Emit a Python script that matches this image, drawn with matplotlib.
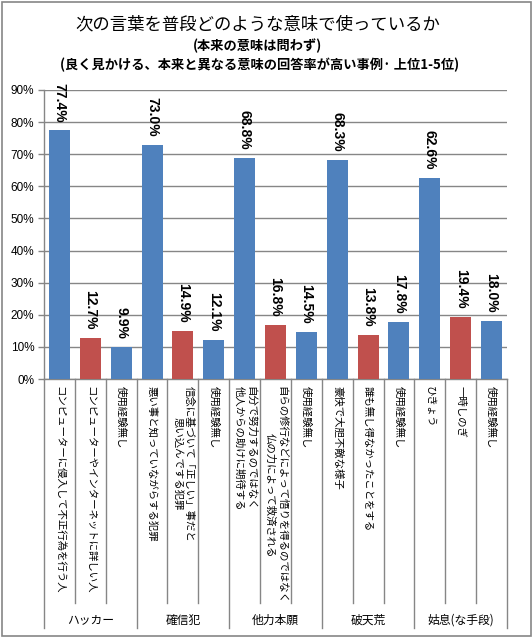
import matplotlib
matplotlib.use("Agg")
import matplotlib.pyplot as plt
from matplotlib.transforms import blended_transform_factory
from matplotlib.patches import Rectangle

# ---- data ----
groups = ["ハッカー", "確信犯", "他力本願", "破天荒", "姑息(な手段)"]
labels = [
    "コンピューターに侵入して不正行為を行う人",
    "コンピューターやインターネットに詳しい人",
    "使用経験無し",
    "悪い事と知っていながらする犯罪",
    "信念に基づいて「正しい」事だと\n思い込んでする犯罪",
    "使用経験無し",
    "自分で努力するのではなく\n他人からの助けに期待する",
    "自らの修行などによって悟りを得るのではなく\n仏の力によって救済される",
    "使用経験無し",
    "豪快で大胆不敵な様子",
    "誰も無し得なかったことをする",
    "使用経験無し",
    "ひきょう",
    "一時しのぎ",
    "使用経験無し",
]
values = [77.4, 12.7, 9.9, 73.0, 14.9, 12.1, 68.8, 16.8, 14.5, 68.3, 13.8, 17.8, 62.6, 19.4, 18.0]
kinds = ["common", "original", "none"] * 5
yticks = [0, 10, 20, 30, 40, 50, 60, 70, 80, 90]

colors = {"common": "#4F81BD", "original": "#C0504D", "none": "#4F81BD"}
JP = ["Noto Sans CJK JP", "DejaVu Sans"]
NUM = ["Liberation Sans", "DejaVu Sans"]
GRAY = "#868686"

W, H = 532, 637
fig = plt.figure(figsize=(W / 100, H / 100), dpi=100)
fig.patch.set_facecolor("white")
fig.add_artist(Rectangle((1.5 / W, 1.5 / H), 1 - 3 / W, 1 - 3 / H, transform=fig.transFigure,
                         fill=False, edgecolor=GRAY, linewidth=1.2))

left, right, top, bottom = 44, 507, 90, 379
ax = fig.add_axes([left / W, 1 - bottom / H, (right - left) / W, (bottom - top) / H])

x = list(range(len(values)))
ax.bar(x, values, width=0.68, color=[colors[k] for k in kinds], zorder=3)
ax.set_xlim(-0.5, len(values) - 0.5)
ax.set_ylim(0, 90)
ax.set_yticks(yticks)
ax.set_yticklabels([f"{t}%" for t in yticks], fontsize=8.5, family=NUM)
ax.yaxis.grid(True, color=GRAY, linewidth=1.0, zorder=0)
for s in ["top", "right"]:
    ax.spines[s].set_visible(False)
for s in ["left", "bottom"]:
    ax.spines[s].set_color(GRAY)
    ax.spines[s].set_linewidth(1.0)
ax.tick_params(axis="y", length=4, color=GRAY, width=1.0, pad=3)

ax.set_xticks(x)
ax.set_xticklabels(labels, rotation=270, fontsize=7.5, family=JP, va="top", ha="center",
                   multialignment="center")
ax.tick_params(axis="x", length=0, pad=5)

for xi, v in zip(x, values):
    ax.annotate(f"{v:.1f}%", (xi, v), xytext=(0, 6), textcoords="offset points",
                rotation=270, ha="center", va="bottom", fontsize=10, fontweight="bold",
                family=NUM)

# multi-level category axis lines
tr = blended_transform_factory(ax.transData, fig.transFigure)
y_axis = 1 - bottom / H
y_short = 1 - 603 / H
y_long = 1 - 628 / H
for i in range(len(values) + 1):
    b = i - 0.5
    yb = y_long if i % 3 == 0 else y_short
    ax.plot([b, b], [y_axis, yb], transform=tr, color=GRAY, linewidth=1.0, clip_on=False)

for gi, g in enumerate(groups):
    ax.text(gi * 3 + 1, 1 - 620 / H, g, transform=tr, ha="center", va="center",
            fontsize=8.5, family=JP)

fig.text(258 / W, 1 - 24 / H, "次の言葉を普段どのような意味で使っているか", ha="center", va="center",
         fontsize=12.5, family=JP)
fig.text(258 / W, 1 - 46 / H, "(本来の意味は問わず)", ha="center", va="center",
         fontsize=9.5, fontweight="bold", family=JP)
fig.text(260 / W, 1 - 65 / H, "(良く見かける、本来と異なる意味の回答率が高い事例· 上位1-5位)",
         ha="center", va="center", fontsize=9.5, fontweight="bold", family=JP)

fig.savefig("out.png", dpi=100)
